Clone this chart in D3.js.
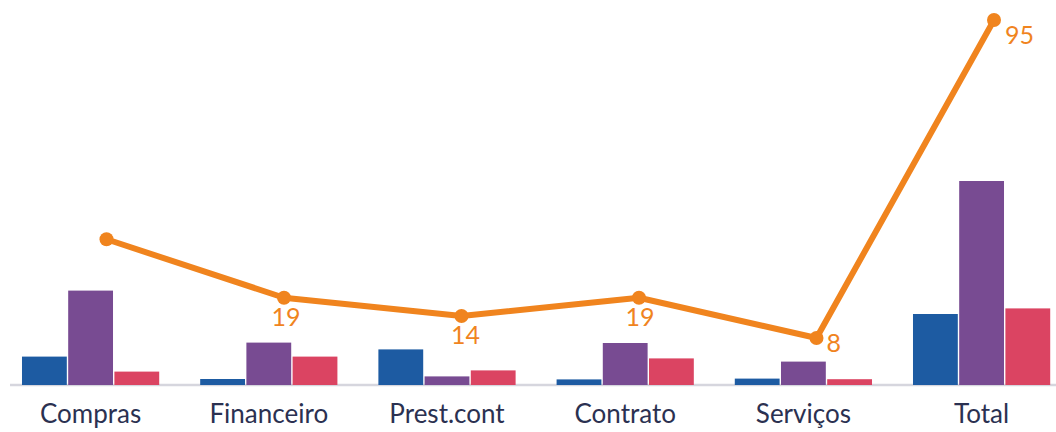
<!DOCTYPE html>
<html>
<head>
<meta charset="utf-8">
<script src="https://cdn.jsdelivr.net/npm/d3@7"></script>
<style>
  html, body { margin: 0; padding: 0; background: #ffffff; }
  svg { display: block; font-family: Lato, "Open Sans", sans-serif; }
</style>
</head>
<body>
<svg id="chart" width="1056" height="432"></svg>
<script>
// ---- data ----
const categories = ["Compras", "Financeiro", "Prest.cont", "Contrato", "Serviços", "Total"];
const seriesBlue   = [14.2, 3.0, 17.8, 2.8, 3.2, 35.5];
const seriesPurple = [47.2, 21.2, 4.3, 21.0, 11.7, 102.0];
const seriesRed    = [6.7, 14.2, 7.3, 13.3, 2.9, 38.3];
const lineValues   = [35, 19, 14, 19, 8, 95];
const lineLabelShown = [false, true, true, true, true, true];

// ---- layout / style ----
const W = 1056, H = 432;
const baseY = 385;
const colors = ["#1d5ba2", "#784b92", "#db4462"];
const orange = "#f0841e";
const textColor = "#2b3151";
// label placement per point: [dx, dy, anchor]
const labelPlacement = [
  [0, 28, "middle"], [2, 28, "middle"], [4, 28, "middle"],
  [1, 28, "middle"], [10, 14, "start"], [11, 24, "start"]
];

const svg = d3.select("#chart");

const x0 = d3.scaleBand().domain(categories).range([1.5, 1070.7])
  .paddingInner(0.2144).paddingOuter(0.1072);
const x1 = d3.scaleBand().domain([0, 1, 2]).range([0, x0.bandwidth()]).padding(0.03);
const yBar = d3.scaleLinear().domain([0, 110]).range([baseY, baseY - 220]);

const xLine = d3.scalePoint().domain(categories).range([106.5, 994]);
const yLine = d3.scaleLinear().domain([0, 100]).range([367.2, 1.7]);

// baseline
svg.append("line")
  .attr("x1", 10).attr("x2", W).attr("y1", baseY).attr("y2", baseY)
  .attr("stroke", "#d6d6de").attr("stroke-width", 2.5);

// bars
const series = [seriesBlue, seriesPurple, seriesRed];
const groups = svg.append("g").selectAll("g")
  .data(categories).join("g")
  .attr("transform", d => `translate(${x0(d)},0)`);
groups.selectAll("rect")
  .data((d, i) => series.map((s, k) => ({ k, v: s[i] })))
  .join("rect")
  .attr("x", d => x1(d.k))
  .attr("width", x1.bandwidth())
  .attr("y", d => yBar(d.v))
  .attr("height", d => baseY - yBar(d.v))
  .attr("fill", d => colors[d.k]);

// axis labels
const axis = d3.axisBottom(x0).tickSize(0).tickPadding(20);
const ax = svg.append("g").attr("transform", `translate(0,${baseY})`).call(axis);
ax.select(".domain").remove();
ax.selectAll("text")
  .attr("font-family", "Lato, sans-serif")
  .attr("font-size", 26)
  .attr("fill", textColor);

// line
const line = d3.line().x((d, i) => xLine(categories[i])).y(d => yLine(d));
svg.append("path")
  .datum(lineValues)
  .attr("d", line)
  .attr("fill", "none")
  .attr("stroke", orange)
  .attr("stroke-width", 6)
  .attr("stroke-linejoin", "round");

svg.append("g").selectAll("circle")
  .data(lineValues).join("circle")
  .attr("cx", (d, i) => xLine(categories[i]))
  .attr("cy", d => yLine(d))
  .attr("r", 7)
  .attr("fill", orange);

svg.append("g").selectAll("text")
  .data(lineValues.map((v, i) => ({ v, i })).filter(d => lineLabelShown[d.i]))
  .join("text")
  .attr("x", d => xLine(categories[d.i]) + labelPlacement[d.i][0])
  .attr("y", d => yLine(d.v) + labelPlacement[d.i][1])
  .attr("text-anchor", d => labelPlacement[d.i][2])
  .attr("font-family", "Lato, sans-serif")
  .attr("font-size", 25)
  .attr("fill", orange)
  .text(d => d.v);
</script>
</body>
</html>
